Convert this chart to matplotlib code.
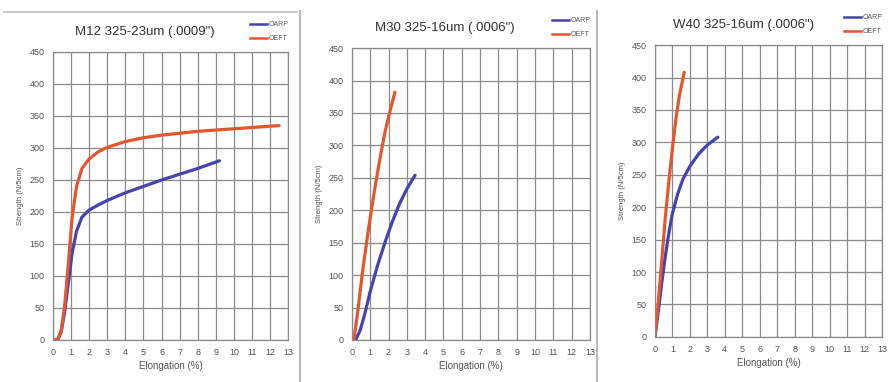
import matplotlib.pyplot as plt
from matplotlib.lines import Line2D

plt.rcParams["font.family"] = ["Liberation Sans", "DejaVu Sans"]

# Data
titles = ['M12 325-23um (.0009")', 'M30 325-16um (.0006")', 'W40 325-16um (.0006")']

m12_oarp_x = [0, 0.25, 0.45, 0.65, 0.85, 1.05, 1.3, 1.6, 2.0, 2.5, 3.0, 4.0, 5.0, 6.0, 7.0, 8.0, 9.2]
m12_oarp_y = [0, 0, 12, 45, 90, 135, 170, 192, 203, 211, 218, 230, 240, 250, 259, 268, 280]
m12_oeft_x = [0, 0.25, 0.45, 0.65, 0.85, 1.05, 1.3, 1.6, 2.0, 2.5, 3.0, 4.0, 5.0, 6.0, 7.0, 8.0, 9.0, 10.0, 11.0, 12.5]
m12_oeft_y = [0, 0, 15, 55, 120, 190, 240, 268, 283, 294, 301, 310, 316, 320, 323, 326, 328, 330, 332, 335]

m30_oarp_x = [0, 0.2, 0.45, 0.7, 1.0, 1.4, 1.8, 2.2, 2.6, 3.0, 3.45]
m30_oarp_y = [0, 0, 15, 40, 75, 115, 150, 182, 210, 233, 254]
m30_oeft_x = [0, 0.1, 0.3, 0.6, 0.9, 1.2, 1.5, 1.8, 2.1, 2.35]
m30_oeft_y = [0, 0, 40, 110, 170, 225, 275, 320, 355, 382]

w40_oarp_x = [0, 0.2, 0.4, 0.6, 0.8, 1.0, 1.3, 1.6, 2.0, 2.5, 3.0, 3.6]
w40_oarp_y = [0, 40, 85, 125, 160, 190, 220, 243, 263, 282, 296, 308]
w40_oeft_x = [0, 0.2, 0.4, 0.6, 0.8, 1.0, 1.2, 1.4, 1.68]
w40_oeft_y = [0, 55, 120, 185, 240, 290, 335, 372, 408]

panels = [
    (m12_oarp_x, m12_oarp_y, m12_oeft_x, m12_oeft_y),
    (m30_oarp_x, m30_oarp_y, m30_oeft_x, m30_oeft_y),
    (w40_oarp_x, w40_oarp_y, w40_oeft_x, w40_oeft_y),
]

x_ticks = list(range(0, 14))
y_ticks = list(range(0, 451, 50))

blue = "#4444b0"
red = "#e4572e"
grid_col = "#8a8a8a"
text_col = "#555555"

fig = plt.figure(figsize=(8.91, 3.82), dpi=100)

rects = [
    [0.0595, 0.110, 0.264, 0.754],
    [0.395, 0.110, 0.267, 0.764],
    [0.735, 0.118, 0.255, 0.764],
]

for rect, title, (bx, by, rx, ry) in zip(rects, titles, panels):
    ax = fig.add_axes(rect)
    ax.plot(bx, by, color=blue, lw=2.3, solid_capstyle="round")
    ax.plot(rx, ry, color=red, lw=2.3, solid_capstyle="round")
    ax.set_xlim(0, 13)
    ax.set_ylim(0, 450)
    ax.set_xticks(x_ticks)
    ax.set_yticks(y_ticks)
    ax.grid(True, color=grid_col, lw=0.9)
    ax.set_axisbelow(True)
    for s in ax.spines.values():
        s.set_color(grid_col)
        s.set_linewidth(0.9)
    ax.tick_params(length=0, labelsize=6.5, colors=text_col, pad=6)
    ax.set_xlabel("Elongation (%)", fontsize=7, color=text_col, labelpad=3)
    ax.set_ylabel("Strength (N/5cm)", fontsize=5.5, color=text_col, labelpad=4)
    ax.set_title(title, fontsize=9.5, color="#333333", pad=12, x=0.39)
    handles = [Line2D([], [], color=blue, lw=1.8), Line2D([], [], color=red, lw=1.8)]
    ax.legend(handles, ["OARP", "OEFT"], loc="lower right", bbox_to_anchor=(1.02, 1.02),
              fontsize=5, frameon=False, handlelength=2.5, handletextpad=0.2,
              labelspacing=1.0, borderaxespad=0.2, labelcolor=text_col)

# panel separators like in the source image
for xf in [0.337, 0.670]:
    fig.add_artist(Line2D([xf, xf], [0.0, 0.97], color="#bbbbbb", lw=1.5))
fig.add_artist(Line2D([0.005, 0.333], [0.968, 0.968], color="#cccccc", lw=1.5))

fig.savefig("out.png", dpi=100)
